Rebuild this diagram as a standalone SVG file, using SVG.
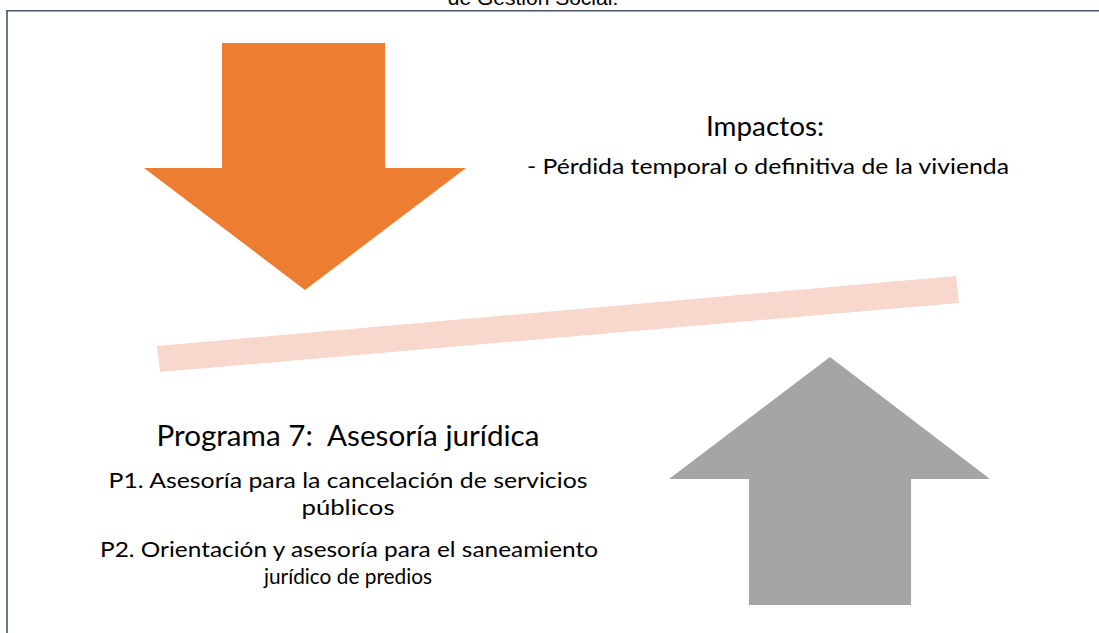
<svg xmlns="http://www.w3.org/2000/svg" width="1099" height="633" viewBox="0 0 1099 633">
<style>
.t{font-family:Lato,"Noto Sans","Liberation Sans",sans-serif;fill:#000;text-anchor:middle;white-space:pre}
.cap{font-family:"Liberation Sans",Arial,sans-serif;fill:#000;text-anchor:middle;font-size:21px}
</style>
<rect width="1099" height="633" fill="#fff"/>
<text class="cap" x="533" y="5">de Gestión Social.</text>
<path d="M7 633 V10.7 H1099" fill="none" stroke="#44546A" stroke-width="1.6"/>
<g id="arrow-down">
<polygon points="222,43 385,43 385,168 466,168 305,290 144,168 222,168" fill="#ED7D31"/>
</g>
<g id="balance">
<polygon points="157,346 956,276 959,303 160,372" fill="#F8D7CD"/>
</g>
<g id="arrow-up">
<polygon points="830,357 990,479 911,479 911,605 749,605 749,479 669,479" fill="#A5A5A5"/>
</g>
<g id="impactos">
<text class="t" x="765" y="136" font-size="27" textLength="118" lengthAdjust="spacingAndGlyphs">Impactos:</text>
<text class="t" x="768" y="174" font-size="21" textLength="482" lengthAdjust="spacingAndGlyphs">- Pérdida temporal o definitiva de la vivienda</text>
</g>
<g id="programa">
<text class="t" x="348" y="446" font-size="29" textLength="383" lengthAdjust="spacingAndGlyphs" xml:space="preserve">Programa 7:  Asesoría jurídica</text>
<text class="t" x="348" y="488" font-size="21" textLength="479" lengthAdjust="spacingAndGlyphs">P1. Asesoría para la cancelación de servicios</text>
<text class="t" x="348" y="515" font-size="21" textLength="93" lengthAdjust="spacingAndGlyphs">públicos</text>
<text class="t" x="349" y="557" font-size="21" textLength="498" lengthAdjust="spacingAndGlyphs">P2. Orientación y asesoría para el saneamiento</text>
<text class="t" x="348" y="584" font-size="21" textLength="168" lengthAdjust="spacingAndGlyphs">jurídico de predios</text>
</g>
</svg>
